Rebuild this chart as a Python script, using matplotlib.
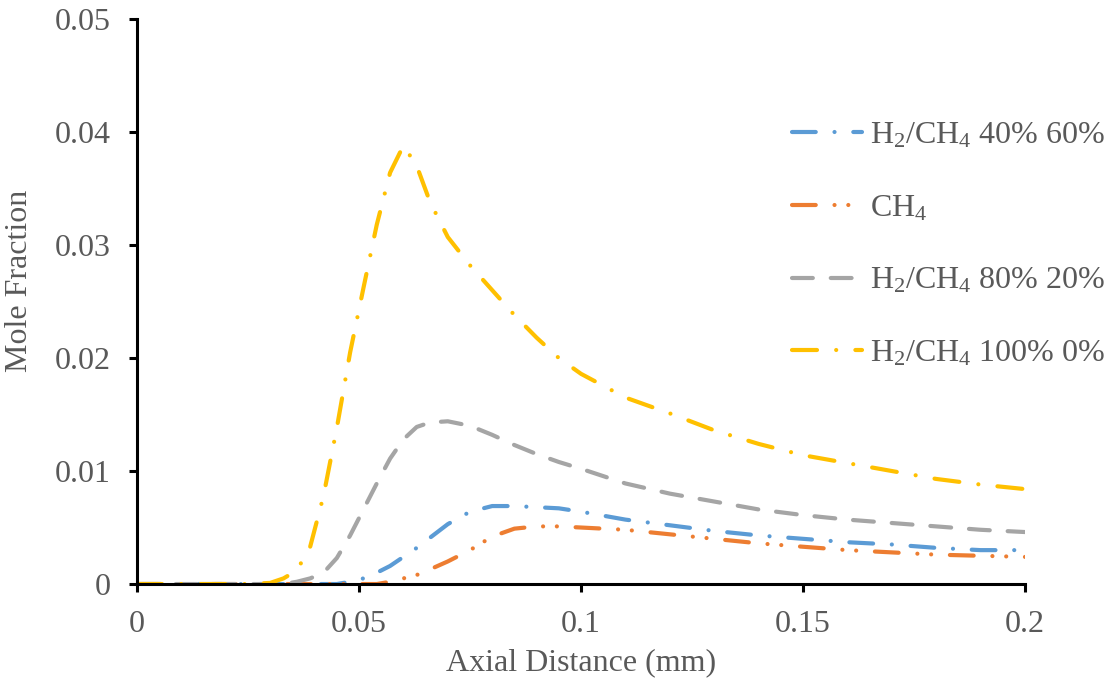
import matplotlib
matplotlib.use("Agg")
import matplotlib.pyplot as plt

# axial distance grid (mm)
x = [0, 0.005, 0.01, 0.015, 0.02, 0.025, 0.03, 0.033, 0.036, 0.039, 0.042,
     0.045, 0.048, 0.051, 0.054, 0.057, 0.06, 0.063, 0.066, 0.07, 0.075,
     0.08, 0.085, 0.09, 0.095, 0.1, 0.11, 0.12, 0.13, 0.14, 0.15, 0.16,
     0.17, 0.18, 0.19, 0.2]

h2_40 = [0, 0, 0, 0, 0, 0, 0, 0, 0, 0, 0,
         0, 0.0002, 0.0005, 0.001, 0.0016, 0.0024, 0.0032, 0.0041, 0.0053, 0.0064,
         0.0069, 0.0069, 0.0068, 0.0067, 0.0064, 0.0057, 0.0052, 0.0047, 0.0043, 0.0040, 0.0037,
         0.0035, 0.0032, 0.0030, 0.0030]

ch4 = [0, 0, 0, 0, 0, 0, 0, 0, 0, 0, 0,
       0, 0, 0, 0, 0.0002, 0.0005, 0.0008, 0.0013, 0.002, 0.003,
       0.0042, 0.0049, 0.0051, 0.0051, 0.0050, 0.0048, 0.0044, 0.0040, 0.0036, 0.0033, 0.0030,
       0.0028, 0.0026, 0.0025, 0.0024]

h2_80 = [0, 0, 0, 0, 0, 0, 0, 0, 0.0002, 0.0005, 0.001,
         0.0023, 0.0043, 0.0066, 0.0089, 0.0111, 0.0128, 0.0139, 0.0143, 0.0144, 0.0140,
         0.0132, 0.0123, 0.0115, 0.0108, 0.0102, 0.0089, 0.0080, 0.0073, 0.0066, 0.0061, 0.0057,
         0.0054, 0.0051, 0.0048, 0.0046]

h2_100 = [0, 0, 0, 0, 0, 0, 0.0001, 0.0005, 0.0012, 0.0033, 0.0078,
          0.0138, 0.0205, 0.0262, 0.0318, 0.0364, 0.0388, 0.0370, 0.0338, 0.0307, 0.0282,
          0.0260, 0.0238, 0.0218, 0.0200, 0.0186, 0.0165, 0.0151, 0.0136, 0.0124, 0.0114, 0.0107,
          0.0100, 0.0093, 0.0088, 0.0084]

labels = [r"H$_2$/CH$_4$ 40% 60%", r"CH$_4$", r"H$_2$/CH$_4$ 80% 20%", r"H$_2$/CH$_4$ 100% 0%"]
colors = ["#5B9BD5", "#ED7D31", "#A5A5A5", "#FFC000"]
styles = [(0, (5.7, 4.5, 0.01, 4.5)),
          (0, (5.7, 4.5, 0.01, 3.3, 0.01, 4.5)),
          (0, (5, 4.3)),
          (0, (6, 4.6, 0.01, 4.6))]

plt.rcParams['font.family'] = ['Liberation Serif', 'DejaVu Serif']
plt.rcParams['mathtext.fontset'] = 'custom'
plt.rcParams['mathtext.rm'] = 'Liberation Serif'
plt.rcParams['mathtext.it'] = 'Liberation Serif'
plt.rcParams['mathtext.default'] = 'rm'
grey = "#595959"

fig = plt.figure(figsize=(11.05, 6.85), dpi=100)
ax = fig.add_axes([0.124, 0.1474, 0.8036, 0.8249])

for y, lab, c, ls in zip([h2_40, ch4, h2_80, h2_100], labels, colors, styles):
    ax.plot(x, y, color=c, lw=3, linestyle=ls, dash_capstyle='round',
            solid_capstyle='round', label=lab)

ax.set_xlim(0, 0.2)
ax.set_ylim(0, 0.05)
ax.set_xticks([0, 0.05, 0.1, 0.15, 0.2])
ax.set_xticklabels(["0", "0.05", "0.1", "0.15", "0.2"])
ax.set_yticks([0, 0.01, 0.02, 0.03, 0.04, 0.05])
ax.set_yticklabels(["0", "0.01", "0.02", "0.03", "0.04", "0.05"])

for s in ['top', 'right']:
    ax.spines[s].set_visible(False)
for s in ['left', 'bottom']:
    ax.spines[s].set_linewidth(2.2)
    ax.spines[s].set_color('black')
ax.tick_params(axis='both', direction='out', length=6, width=2.2, color='black',
               labelsize=23, labelcolor=grey, pad=13)

ax.set_xlabel("Axial Distance (mm)", fontsize=23, color=grey, labelpad=6)
ax.set_ylabel("Mole Fraction", fontsize=23, color=grey)
ax.yaxis.set_label_coords(-0.116, 0.536)

leg = fig.legend(loc='upper left', bbox_to_anchor=(0.705, 0.842), frameon=False,
                 fontsize=23, labelcolor=grey, handlelength=2.2, handletextpad=0.25,
                 labelspacing=1.35, borderaxespad=0)

fig.savefig("out.png", dpi=100)
